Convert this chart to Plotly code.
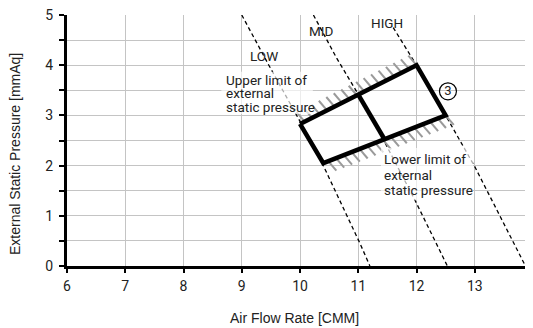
import numpy as np
import plotly.graph_objects as go

# ---- data ----
x_ticks = [6, 7, 8, 9, 10, 11, 12, 13, 14]
y_ticks = [0, 1, 2, 3, 4, 5]
y_minor = [0.5, 1, 1.5, 2, 2.5, 3, 3.5, 4, 4.5]

low_x = [9.0, 9.46, 10.0, 10.4, 11.03, 11.2]
low_y = [5.0, 4.01, 2.88, 2.0, 0.45, 0.0]
mid_x = [10.23, 10.63, 11.0, 11.43, 11.97, 12.53]
mid_y = [5.0, 4.14, 3.42, 2.52, 1.32, 0.0]
high_x = [11.6, 12.0, 12.5, 13.0, 13.87]
high_y = [4.75, 4.0, 3.0, 1.98, 0.0]

curve_labels = ["LOW", "MID", "HIGH"]
label_x = [9.39, 10.36, 11.49]
label_y = [4.18, 4.69, 4.85]

box_x = [10.0, 12.0, 12.5, 10.4, 10.0]
box_y = [2.83, 4.0, 3.0, 2.05, 2.83]
div_x = [11.0, 11.45]
div_y = [3.415, 2.525]

upper_text = ["Upper limit of", "external", "static pressure"]
upper_tx = 8.70
upper_ty = [3.715, 3.44, 3.165]
upper_box = [8.65, 10.22, 3.03, 3.87]
lower_text = ["Lower limit of", "external", "static pressure"]
lower_tx = 11.41
lower_ty = [2.14, 1.82, 1.51]
lower_box = [11.39, 12.97, 1.31, 2.35]

mark_label = "3"
mark_x = 12.54
mark_y = 3.48

x_title = "Air Flow Rate [CMM]"
y_title = "External Static Pressure [mmAq]"

# ---- hatch geometry derived from box edges ----
def hatch(p0, p1, n, dx, dy):
    xs, ys = [], []
    for t in np.linspace(0.04, 1.0, n):
        x0 = p0[0] + (p1[0] - p0[0]) * t
        y0 = p0[1] + (p1[1] - p0[1]) * t
        xs += [x0, x0 + dx, None]
        ys += [y0, y0 + dy, None]
    return xs, ys

hx1, hy1 = hatch((box_x[0], box_y[0]), (box_x[1], box_y[1]), 16, -0.14, 0.19)
hx2, hy2 = hatch((box_x[3], box_y[3]), (box_x[2], box_y[2]), 16, 0.14, -0.19)

COND = "Roboto, sans-serif"
SANS = "Liberation Sans, Arial, sans-serif"

fig = go.Figure()
for cx, cy in [(low_x, low_y), (mid_x, mid_y), (high_x, high_y)]:
    fig.add_trace(go.Scatter(x=cx, y=cy, mode="lines",
                             line=dict(color="black", width=1.3, dash="4px,3px"),
                             hoverinfo="skip", showlegend=False))
fig.add_trace(go.Scatter(x=hx1 + hx2, y=hy1 + hy2, mode="lines",
                         line=dict(color="#9a9a9a", width=2),
                         hoverinfo="skip", showlegend=False))
fig.add_trace(go.Scatter(x=box_x, y=box_y, mode="lines",
                         line=dict(color="black", width=4.5),
                         hoverinfo="skip", showlegend=False))
fig.add_trace(go.Scatter(x=div_x, y=div_y, mode="lines",
                         line=dict(color="black", width=4.5),
                         hoverinfo="skip", showlegend=False))
fig.add_trace(go.Scatter(x=[mark_x], y=[mark_y], mode="markers+text",
                         text=[mark_label], textposition="middle center",
                         textfont=dict(family=COND, size=13, color="#222"),
                         marker=dict(symbol="circle-open", size=17,
                                     line=dict(color="black", width=1.2), color="black"),
                         hoverinfo="skip", showlegend=False))

for b in (upper_box, lower_box):
    fig.add_shape(type="rect", xref="x", yref="y", x0=b[0], x1=b[1], y0=b[2], y1=b[3],
                  fillcolor="rgba(255,255,255,0.68)", line=dict(width=0), layer="above")

for t, y in zip(upper_text, upper_ty):
    fig.add_annotation(x=upper_tx, y=y, text=t, showarrow=False, xanchor="left",
                       yanchor="middle", font=dict(family=COND, size=13.5, color="#222"))
for t, y in zip(lower_text, lower_ty):
    fig.add_annotation(x=lower_tx, y=y, text=t, showarrow=False, xanchor="left",
                       yanchor="middle", font=dict(family=COND, size=13.5, color="#222"))
for t, x, y in zip(curve_labels, label_x, label_y):
    fig.add_annotation(x=x, y=y, text=t, showarrow=False, xanchor="center",
                       yanchor="middle", font=dict(family=COND, size=13.5, color="#222"))

fig.add_annotation(x=9.9, xref="x", y=0, yref="paper", yshift=-52, text=x_title,
                   showarrow=False, yanchor="middle",
                   font=dict(family=SANS, size=14, color="#222"))
fig.add_annotation(x=0, xref="paper", xshift=-52, y=2.23, yref="y", text=y_title,
                   textangle=-90, showarrow=False, xanchor="center",
                   font=dict(family=SANS, size=14, color="#222"))

fig.update_xaxes(range=[6, 14], tickvals=x_ticks, ticktext=[str(v) for v in x_ticks],
                 showgrid=True, gridcolor="#c4c4c4", gridwidth=1.2, zeroline=False,
                 showline=True, linecolor="black", linewidth=3,
                 ticks="outside", ticklen=4, tickwidth=2, tickcolor="black",
                 ticklabelstandoff=1, automargin=False, ticklabeloverflow="allow",
                 tickfont=dict(family=COND, size=14, color="#222"))
fig.update_yaxes(range=[0, 5], tickvals=y_ticks, ticktext=[str(v) for v in y_ticks],
                 showgrid=False, zeroline=False,
                 showline=True, linecolor="black", linewidth=3,
                 ticks="outside", ticklen=5, tickwidth=2, tickcolor="black",
                 ticklabelstandoff=3, automargin=False, ticklabeloverflow="allow",
                 tickfont=dict(family=COND, size=14, color="#222"),
                 minor=dict(tickvals=y_minor, ticks="outside", ticklen=5, tickwidth=2,
                            tickcolor="black", showgrid=True, gridcolor="#c4c4c4",
                            gridwidth=1.2))

# page has an 8px body margin, so the figure is sized to sit inside the window
fig.update_layout(template="none", width=525, height=320,
                  margin=dict(l=59, r=0, t=7, b=62),
                  paper_bgcolor="white", plot_bgcolor="white", showlegend=False)

fig.write_html("out.html")
